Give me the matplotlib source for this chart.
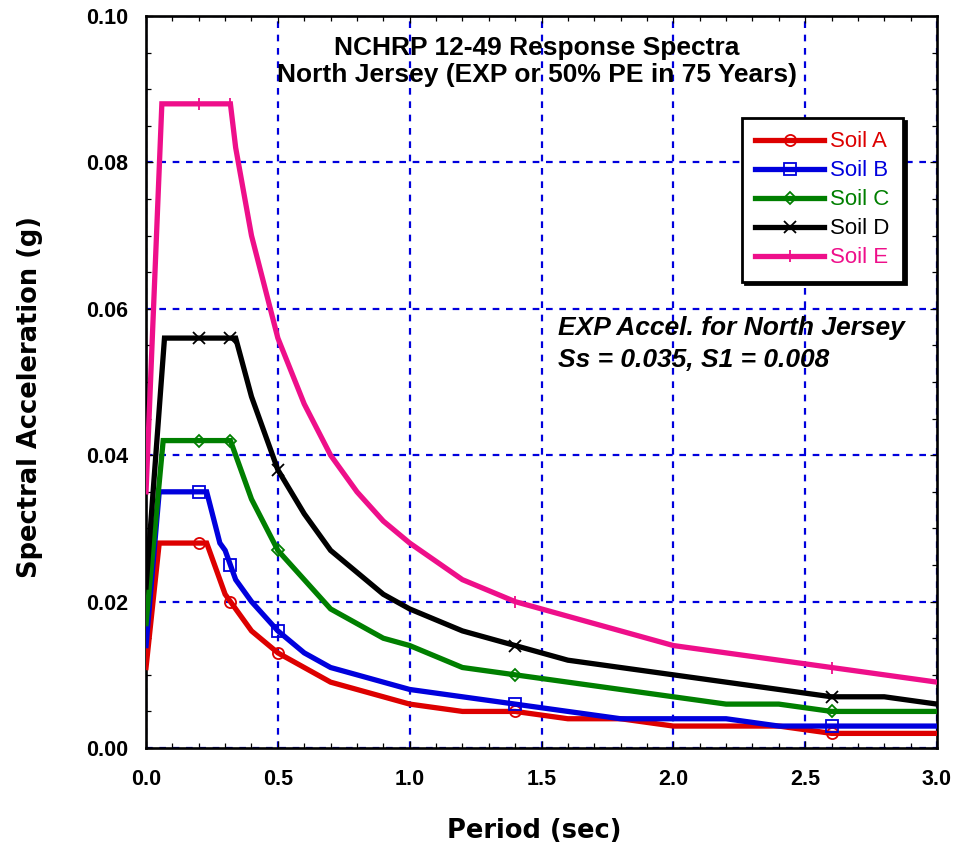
import matplotlib
matplotlib.use('Agg')
import matplotlib.pyplot as plt
from matplotlib.ticker import MultipleLocator, FormatStrFormatter

plt.rcParams['font.family'] = ['Liberation Sans', 'DejaVu Sans']

# spectral acceleration (g) vs period (sec) for each site class
period_a = [0.0, 0.05, 0.2, 0.23, 0.3, 0.32, 0.4, 0.5, 0.6, 0.7, 0.8, 0.9, 1.0,
            1.2, 1.4, 1.6, 1.8, 2.0, 2.2, 2.4, 2.6, 2.8, 3.0]
sa_a = [0.011, 0.028, 0.028, 0.028, 0.021, 0.020, 0.016, 0.013, 0.011, 0.009, 0.008, 0.007, 0.006,
        0.005, 0.005, 0.004, 0.004, 0.003, 0.003, 0.003, 0.002, 0.002, 0.002]

period_b = [0.0, 0.05, 0.2, 0.23, 0.28, 0.3, 0.32, 0.34, 0.4, 0.5, 0.6, 0.7, 0.8, 0.9, 1.0,
            1.2, 1.4, 1.6, 1.8, 2.0, 2.2, 2.4, 2.6, 2.8, 3.0]
sa_b = [0.014, 0.035, 0.035, 0.035, 0.028, 0.027, 0.025, 0.023, 0.020, 0.016, 0.013, 0.011, 0.010, 0.009, 0.008,
        0.007, 0.006, 0.005, 0.004, 0.004, 0.004, 0.003, 0.003, 0.003, 0.003]

period_c = [0.0, 0.065, 0.2, 0.32, 0.4, 0.5, 0.6, 0.7, 0.8, 0.9, 1.0,
            1.2, 1.4, 1.6, 1.8, 2.0, 2.2, 2.4, 2.6, 2.8, 3.0]
sa_c = [0.017, 0.042, 0.042, 0.042, 0.034, 0.027, 0.023, 0.019, 0.017, 0.015, 0.014,
        0.011, 0.010, 0.009, 0.008, 0.007, 0.006, 0.006, 0.005, 0.005, 0.005]

period_d = [0.0, 0.07, 0.2, 0.32, 0.34, 0.4, 0.5, 0.6, 0.7, 0.8, 0.9, 1.0,
            1.2, 1.4, 1.6, 1.8, 2.0, 2.2, 2.4, 2.6, 2.8, 3.0]
sa_d = [0.022, 0.056, 0.056, 0.056, 0.056, 0.048, 0.038, 0.032, 0.027, 0.024, 0.021, 0.019,
        0.016, 0.014, 0.012, 0.011, 0.010, 0.009, 0.008, 0.007, 0.007, 0.006]

period_e = [0.0, 0.06, 0.2, 0.32, 0.34, 0.4, 0.5, 0.6, 0.7, 0.8, 0.9, 1.0,
            1.2, 1.4, 1.6, 1.8, 2.0, 2.2, 2.4, 2.6, 2.8, 3.0]
sa_e = [0.035, 0.088, 0.088, 0.088, 0.082, 0.070, 0.056, 0.047, 0.040, 0.035, 0.031, 0.028,
        0.023, 0.020, 0.018, 0.016, 0.014, 0.013, 0.012, 0.011, 0.010, 0.009]

soil_labels = ['Soil A', 'Soil B', 'Soil C', 'Soil D', 'Soil E']
# periods where a symbol is drawn on each curve
marker_periods = [0.2, 0.32, 0.5, 1.4, 2.6]

fig = plt.figure(figsize=(9.57, 8.6), dpi=100)
ax = fig.add_axes([0.1526, 0.1302, 0.8265, 0.8512])

series = [(period_a, sa_a, '#dd0000', 'o', 8),
          (period_b, sa_b, '#0000dd', 's', 8),
          (period_c, sa_c, '#007f00', 'D', 6.5),
          (period_d, sa_d, '#000000', 'x', 8.5),
          (period_e, sa_e, '#ee0f8a', '|', 9)]

for (t, sa, col, mk, ms), lab in zip(series, soil_labels):
    idx = [i for i, p in enumerate(t) if round(p, 3) in marker_periods]
    ax.plot(t, sa, color=col, lw=3.8, marker=mk, markevery=idx, ms=ms,
            mfc='none', mec=col, mew=1.3, label=lab, zorder=3,
            solid_joinstyle='miter')

ax.set_xlim(0, 3.0)
ax.set_ylim(0, 0.10)
ax.xaxis.set_major_locator(MultipleLocator(0.5))
ax.xaxis.set_minor_locator(MultipleLocator(0.1))
ax.yaxis.set_major_locator(MultipleLocator(0.02))
ax.yaxis.set_minor_locator(MultipleLocator(0.005))
ax.xaxis.set_major_formatter(FormatStrFormatter('%.1f'))
ax.yaxis.set_major_formatter(FormatStrFormatter('%.2f'))
ax.tick_params(which='both', direction='in', top=True, right=True,
               width=0.9, labelsize=15.5)
ax.tick_params(axis='x', pad=15)
ax.tick_params(axis='y', pad=13)
ax.tick_params(which='major', length=5)
ax.tick_params(which='minor', length=3.6)
for lbl in ax.get_xticklabels() + ax.get_yticklabels():
    lbl.set_fontweight('bold')
for s in ax.spines.values():
    s.set_linewidth(1.9)

ax.grid(True, which='major', color='#0000dd', ls=(0, (3, 3)), lw=1.6, zorder=1)
ax.set_axisbelow(True)

ax.set_xlabel('Period (sec)', fontsize=18.5, fontweight='bold', family='DejaVu Sans')
ax.set_ylabel('Spectral Acceleration (g)', fontsize=18.5, fontweight='bold', family='DejaVu Sans')
ax.xaxis.set_label_coords(0.491, -0.0956)
ax.yaxis.set_label_coords(-0.130, 0.4795)

# heading inside the plot area
ax.text(1.483, 0.0947, 'NCHRP 12-49 Response Spectra', ha='center', va='baseline',
        fontsize=19, fontweight='bold')
ax.text(1.483, 0.0910, 'North Jersey (EXP or 50% PE in 75 Years)', ha='center', va='baseline',
        fontsize=19, fontweight='bold')

# design acceleration note
ax.text(1.562, 0.0564, 'EXP Accel. for North Jersey', ha='left', va='baseline',
        fontsize=19, fontweight='bold', style='italic')
ax.text(1.562, 0.0520, 'Ss = 0.035, S1 = 0.008', ha='left', va='baseline',
        fontsize=19, fontweight='bold', style='italic')

leg = ax.legend(loc='upper left', bbox_to_anchor=(0.7535, 0.8607), borderaxespad=0,
                fontsize=16, frameon=True, fancybox=False,
                shadow={'color': 'black', 'alpha': 1},
                edgecolor='black', handlelength=3.1, borderpad=0.6,
                labelspacing=0.36, handletextpad=0.28)
leg.get_frame().set_linewidth(2)
for txt, (_, _, col, _, _) in zip(leg.get_texts(), series):
    txt.set_color(col)

fig.savefig('out.png', dpi=100)
